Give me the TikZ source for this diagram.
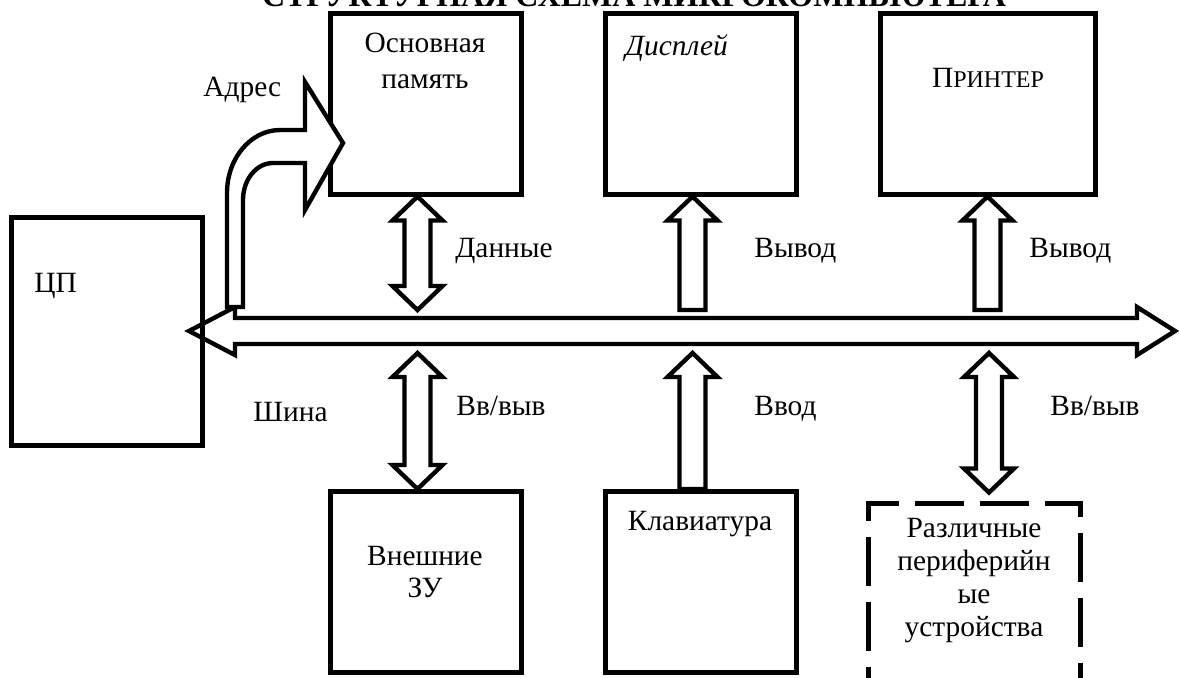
\documentclass[tikz,border=0pt]{standalone}
\usepackage{fontspec}
\setmainfont{Liberation Serif}
\usetikzlibrary{calc}

% vertical block arrows: tip at #1, other end at #2
\newcommand\darrow[2]{%
  \draw[blk] let \p1=(#1), \p2=(#2) in
    (\x1,\y1) -- (\x1+12.5pt,\y1-12pt) -- (\x1+6.5pt,\y1-12pt) -- (\x1+6.5pt,\y2+12pt)
    -- (\x1+12.5pt,\y2+12pt) -- (\x1,\y2) -- (\x1-12.5pt,\y2+12pt) -- (\x1-6.5pt,\y2+12pt)
    -- (\x1-6.5pt,\y1-12pt) -- (\x1-12.5pt,\y1-12pt) -- cycle;}
\newcommand\uarrow[2]{%
  \draw[blk] let \p1=(#1), \p2=(#2) in
    (\x1,\y1) -- (\x1+12.5pt,\y1-12pt) -- (\x1+6.5pt,\y1-12pt) -- (\x1+6.5pt,\y2)
    -- (\x1-6.5pt,\y2) -- (\x1-6.5pt,\y1-12pt) -- (\x1-12.5pt,\y1-12pt) -- cycle;}

\begin{document}
\begin{tikzpicture}[x=0.5pt, y=-0.5pt,
    box/.style={draw, line width=2.5pt, minimum width=95.5pt, minimum height=90.5pt, inner sep=0pt},
    blk/.style={draw, fill=white, line width=2.2pt, line join=miter},
    lbl/.style={inner sep=0pt, anchor=base west, font=\fontsize{14.7}{16.5}\selectfont},
    txt/.style={inner sep=0pt, anchor=north, align=center, font=\fontsize{14.7}{16.5}\selectfont}]
    \useasboundingbox (0,0) rectangle (1179,677);
    \clip (0,0) rectangle (1179,677);

    \node[anchor=base, inner sep=0pt, font=\fontsize{16}{19}\selectfont\bfseries] (title) at (634,6)
        {СТРУКТУРНАЯ СХЕМА МИКРОКОМПЬЮТЕРА};

    % bus
    \coordinate (busL) at (189,331);
    \coordinate (busR) at (1175,331);
    \coordinate (busT) at (0,310);
    \coordinate (busB) at (0,353);
    \draw[blk] let \p1=(busL), \p2=(busR) in
        (\p1) -- (\x1+23pt,\y1+12pt) -- (\x1+23pt,\y1+6.5pt) -- (\x2-19pt,\y1+6.5pt)
        -- (\x2-19pt,\y1+12pt) -- (\p2) -- (\x2-19pt,\y1-12pt) -- (\x2-19pt,\y1-6.5pt)
        -- (\x1+23pt,\y1-6.5pt) -- (\x1+23pt,\y1-12pt) -- cycle;

    % blocks
    \node[box, minimum height=114pt] (cpu) at (107,331) {};
    \node[box] (mem) at (425.5,103.5) {};
    \node[box] (disp) at (700.5,103.5) {};
    \node[box, minimum width=107.5pt] (prn) at (987.5,103.5) {};
    \node[box] (ext) at (425.5,582) {};
    \node[box] (kbd) at (700.5,582) {};
    \node[box, dash pattern=on 24.5pt off 8pt, dash phase=20pt, minimum width=106pt, minimum height=108.5pt]
        (per) at (974,611.5) {};

    % arrows
    \coordinate (datT) at ([xshift=-4pt]mem.south);
    \coordinate (datB) at (datT |- busT);
    \darrow{datT}{datB}
    \coordinate (extB) at ([xshift=-4pt]ext.north);
    \coordinate (extT) at (extB |- busB);
    \darrow{extT}{extB}
    \coordinate (perB) at ([xshift=7.5pt,yshift=4pt]per.north);
    \coordinate (perT) at (perB |- busB);
    \darrow{perT}{perB}
    \coordinate (dspT) at ([xshift=-4pt]disp.south);
    \coordinate (dspB) at (dspT |- busT);
    \uarrow{dspT}{dspB}
    \coordinate (prnB) at (prn.south |- busT);
    \uarrow{prn.south}{prnB}
    \coordinate (kbdB) at ([xshift=-4pt]kbd.north);
    \coordinate (kbdT) at (kbdB |- busB);
    \uarrow{kbdT}{kbdB}

    % address arrow
    \draw[blk] (227,307) -- (227,193) .. controls (227,158) and (251,130) .. (280,130) -- (305,130)
        -- (305,82) -- (343,143) -- (305,210) -- (305,163) -- (273,163)
        .. controls (256,163) and (243,180) .. (243,200) -- (243,307) -- cycle;

    % texts
    \node[lbl] (cpuT) at (34,292) {ЦП};
    \node[txt, font=\fontsize{14.7}{18}\selectfont] (memT) at (425,33) {Основная\\память};
    \node[lbl, font=\fontsize{14.7}{16.5}\selectfont\itshape] (dspL) at (625,55) {Дисплей};
    \node[anchor=base, inner sep=0pt, font=\fontsize{14.7}{16.5}\selectfont] (prnT) at (988,87)
        {П{\fontsize{12}{14}\selectfont РИНТЕР}};
    \node[txt, font=\fontsize{14.7}{16}\selectfont] (extL) at (425,546) {Внешние\\ЗУ};
    \node[txt] (kbdL) at (700,511) {Клавиатура};
    \node[txt] (perL) at (974,518) {Различные\\периферийн\\ые\\устройства};

    \node[lbl] (adr) at (203,96) {Адрес};
    \node[lbl] (dat) at (455,257) {Данные};
    \node[lbl] (out1) at (754,257) {Вывод};
    \node[lbl] (out2) at (1029,257) {Вывод};
    \node[lbl] (bus) at (253,421) {Шина};
    \node[lbl] (io1) at (456,415) {Вв/выв};
    \node[lbl] (inp) at (754,415) {Ввод};
    \node[lbl] (io2) at (1050,415) {Вв/выв};
\end{tikzpicture}
\end{document}
